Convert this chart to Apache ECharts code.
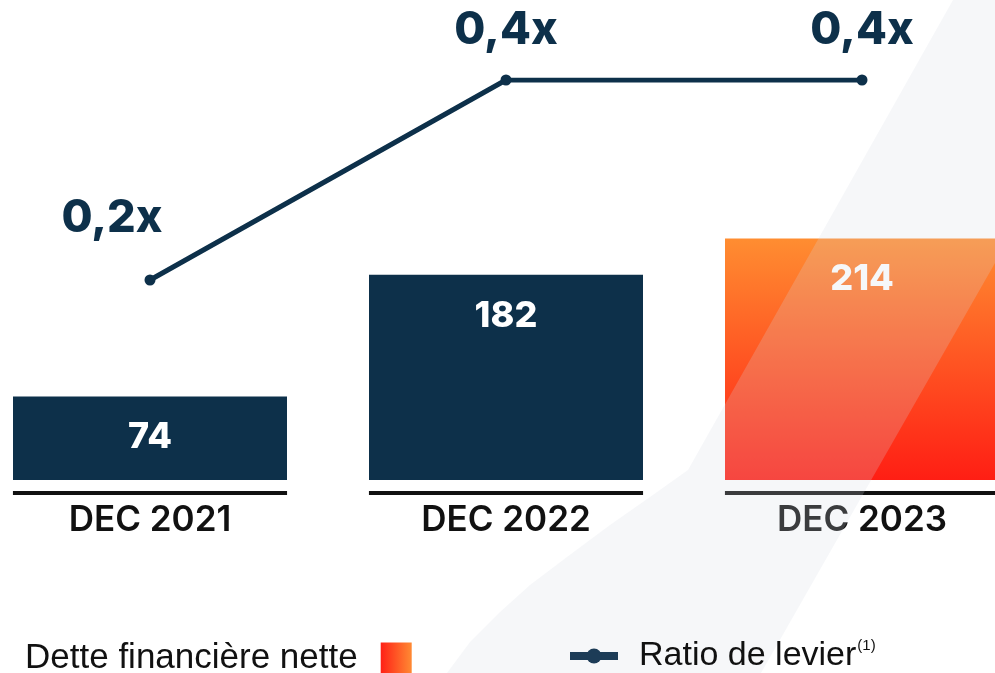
<!DOCTYPE html>
<html>
<head>
<meta charset="utf-8">
<title>Dette financière nette</title>
<script src="https://cdn.jsdelivr.net/npm/echarts@6/dist/echarts.min.js"></script>
<style>
  html, body { margin: 0; padding: 0; background: #fff; }
  #chart { width: 995px; height: 673px; }
</style>
</head>
<body>
<div id="chart"></div>
<script>
// données
const categories = ['DEC 2021', 'DEC 2022', 'DEC 2023']
const detteValues = [74, 182, 214]
const ratioValues = [0.2, 0.4, 0.4]

const navy = '#0d304a'

const chart = echarts.init(document.getElementById('chart'))

// dégradé de la dernière barre (haut orange -> bas rouge)
const barGradient = new echarts.graphic.LinearGradient(0, 0, 0, 1, [
  { offset: 0, color: '#ff8d31' },
  { offset: 1, color: '#ff1e14' }
])
// icône de légende : rouge -> orange de gauche à droite
const legendGradient = new echarts.graphic.LinearGradient(0, 0, 1, 0, [
  { offset: 0, color: '#ff2016' },
  { offset: 1, color: '#ff8a33' }
])

// bande claire en diagonale posée par-dessus le graphique
const bandPoints = [
  [953, 0], [995, 0], [995, 263], [761, 673], [447, 673], [470, 642],
  [500, 612], [530, 585], [567, 557], [610, 525], [650, 497], [688, 470]
]

chart.setOption({
  animation: false,
  backgroundColor: '#fff',
  grid: {
    left: -28,
    width: 1068,
    top: 80,
    bottom: 193,
    outerBoundsMode: 'none'
  },
  xAxis: {
    type: 'category',
    data: categories,
    axisLine: { show: false },
    axisTick: { show: false },
    axisLabel: {
      margin: 23,
      color: '#111',
      fontFamily: 'Inter',
      fontWeight: 600,
      fontSize: 35
    }
  },
  yAxis: [
    { type: 'value', min: 0, max: 354.6, show: false },
    { type: 'value', min: 0, max: 0.4, show: false }
  ],
  legend: [
    {
      left: 25,
      top: 640,
      padding: 0,
      align: 'right',
      itemWidth: 31,
      itemHeight: 31,
      z: 20,
      data: [{ name: 'Dette financière nette', icon: 'rect', itemStyle: { color: legendGradient } }],
      textStyle: {
        color: '#111',
        fontFamily: 'Liberation Sans',
        fontSize: 35,
        lineHeight: 36,
        padding: [0, 18, 0, 0]
      }
    },
    {
      left: 566,
      top: 638,
      padding: 0,
      itemWidth: 48,
      itemHeight: 19,
      z: 20,
      data: ['Ratio de levier'],
      lineStyle: { width: 8, color: '#1d3c57' },
      itemStyle: { color: '#1d3c57' },
      formatter: function(name) {
        return '{n|' + name + '}{s|(1)}'
      },
      textStyle: {
        color: '#111',
        fontFamily: 'Liberation Sans',
        fontSize: 34,
        lineHeight: 36,
        padding: [0, 0, 0, 16],
        rich: {
          n: { fontFamily: 'Liberation Sans', fontSize: 34, lineHeight: 36, color: '#111' },
          s: { fontFamily: 'Liberation Sans', fontSize: 15, lineHeight: 36, color: '#111', verticalAlign: 'top', padding: [0, 0, 14, 1] }
        }
      }
    }
  ],
  series: [
    {
      name: 'Dette financière nette',
      type: 'bar',
      barWidth: 274,
      itemStyle: { color: navy },
      label: {
        show: true,
        position: 'insideTop',
        distance: 23,
        color: '#fff',
        fontFamily: 'Inter',
        fontWeight: 800,
        fontSize: 36
      },
      data: detteValues.map(function(v, i) {
        // la dernière année est en dégradé orange
        return i === detteValues.length - 1 ? { value: v, itemStyle: { color: barGradient } } : v
      })
    },
    {
      // trait noir sous chaque barre
      type: 'custom',
      silent: true,
      clip: false,
      data: categories.map(function(c, i) { return [i, 0] }),
      renderItem: function(params, api) {
        const p = api.coord([api.value(0), 0])
        const w = api.size([1, 0])[0] * 0.77
        return {
          type: 'line',
          shape: { x1: p[0] - w / 2, y1: p[1] + 13, x2: p[0] + w / 2, y2: p[1] + 13 },
          style: { stroke: '#111', lineWidth: 4 }
        }
      }
    },
    {
      name: 'Ratio de levier',
      type: 'line',
      yAxisIndex: 1,
      symbol: 'circle',
      symbolSize: 11,
      lineStyle: { width: 5, color: navy },
      itemStyle: { color: navy },
      label: {
        show: true,
        position: 'top',
        distance: 22,
        color: navy,
        fontFamily: 'Inter',
        fontWeight: 800,
        fontSize: 45,
        formatter: function(p) {
          return p.value.toFixed(1).replace('.', ',') + 'x'
        }
      },
      data: ratioValues.map(function(v, i) {
        // le premier libellé est décalé vers la gauche
        return i === 0 ? { value: v, label: { offset: [-38, -12] } } : v
      })
    }
  ],
  graphic: [
    {
      type: 'polygon',
      silent: true,
      z: 10,
      shape: { points: bandPoints },
      style: { fill: 'rgba(213,218,227,0.216)' }
    }
  ]
})
</script>
</body>
</html>
